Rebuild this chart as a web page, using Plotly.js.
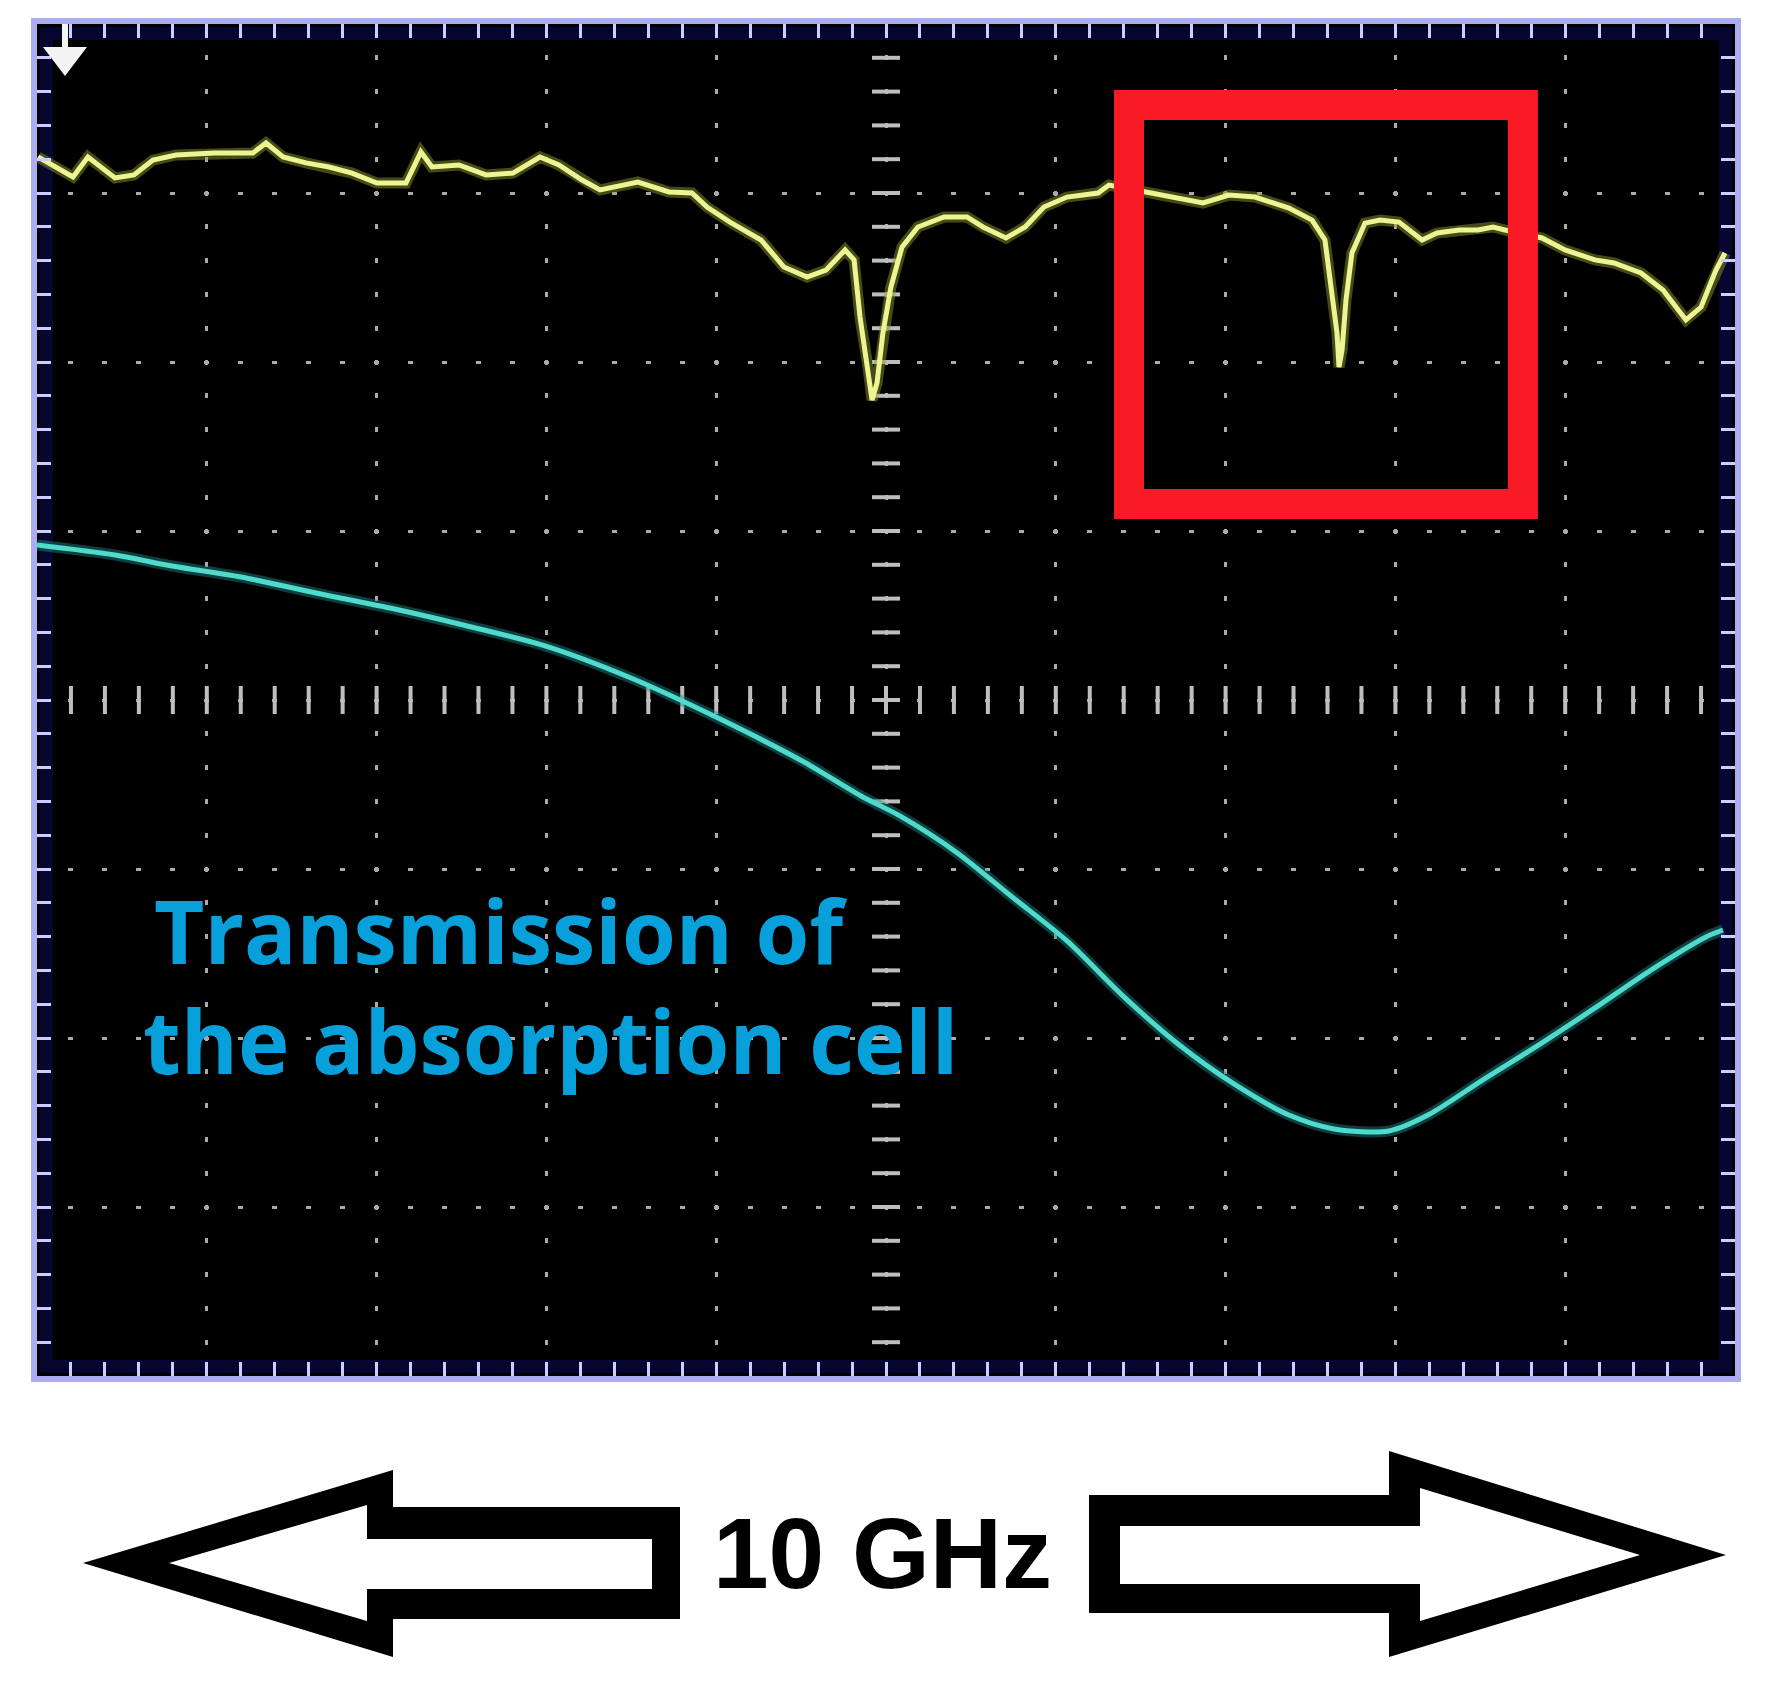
<!DOCTYPE html>
<html>
<head>
<meta charset="utf-8">
<script src="https://cdn.plot.ly/plotly-3.0.1.min.js"></script>
<style>
html,body{margin:0;padding:0;background:#ffffff;}
#chart{width:1772px;height:1685px;}
</style>
</head>
<body>
<div id="chart"></div>
<script>
// ---- Data (x in GHz across the 10 GHz sweep, y in screen divisions) ----
const yellowX = [0.006,0.212,0.300,0.459,0.571,0.683,0.819,1.042,1.272,1.349,1.449,1.584,1.720,1.855,2.002,2.173,2.261,2.326,2.485,2.644,2.803,2.962,3.074,3.210,3.316,3.539,3.722,3.857,3.946,4.081,4.264,4.399,4.535,4.647,4.759,4.812,4.847,4.894,4.918,4.947,4.982,5.029,5.094,5.188,5.342,5.477,5.571,5.707,5.819,5.930,6.066,6.249,6.313,6.561,6.731,6.867,7.020,7.173,7.373,7.509,7.585,7.621,7.656,7.668,7.686,7.709,7.744,7.821,7.909,8.021,8.157,8.245,8.375,8.486,8.575,8.645,8.863,8.999,9.175,9.287,9.446,9.576,9.711,9.800,9.888,9.941];
const yellowY = [7.213,7.095,7.213,7.089,7.107,7.195,7.225,7.237,7.237,7.296,7.213,7.178,7.154,7.118,7.059,7.059,7.243,7.154,7.166,7.107,7.118,7.213,7.166,7.077,7.018,7.065,7.006,7.000,6.917,6.828,6.722,6.562,6.503,6.544,6.663,6.604,6.266,5.970,5.775,5.876,6.172,6.444,6.680,6.799,6.858,6.858,6.799,6.734,6.799,6.917,6.976,7.000,7.047,7.000,6.970,6.941,6.988,6.976,6.911,6.840,6.722,6.467,6.172,5.970,6.071,6.367,6.645,6.822,6.840,6.828,6.722,6.763,6.781,6.781,6.799,6.781,6.734,6.663,6.604,6.586,6.527,6.426,6.249,6.325,6.544,6.645];

const cyanX = [0.000,0.459,0.795,1.201,1.643,2.079,2.485,2.992,3.498,4.011,4.517,4.853,5.082,5.412,5.736,6.066,6.390,6.720,7.049,7.373,7.638,7.962,8.192,8.522,8.852,9.176,9.505,9.829,9.929];
const cyanY = [4.917,4.858,4.793,4.728,4.633,4.544,4.450,4.320,4.130,3.893,3.633,3.432,3.314,3.101,2.840,2.574,2.254,1.964,1.728,1.544,1.462,1.450,1.544,1.757,1.964,2.178,2.402,2.598,2.639];

// highlighted region (red box) in data units
const boxX = [6.431, 8.751];
const boxY = [5.160, 7.521];

const labelLine1 = 'Transmission of';
const labelLine2 = 'the absorption cell';
const spanLabel = '10 GHz';

// ---- Layout geometry ----
const FIG_W = 1772, FIG_H = 1685;
const L = 37, R = 37, T = 24, Bm = 309;
const W = FIG_W - L - R;       // 1698
const H = FIG_H - T - Bm;      // 1352
const BOT = T + H;             // 1376

function px(x){ return (x - L) / W; }
function py(y){ return (BOT - y) / H; }
function P(x, y){ return px(x).toFixed(5) + ',' + py(y).toFixed(5); }
function poly(pts){ return 'M' + pts.map(p => P(p[0], p[1])).join(' L') + ' Z'; }

// graticule center-line tick positions (every 0.2 division)
const centerTicksX = [];
for (let i = 1; i < 50; i++) centerTicksX.push(+(i * 0.2).toFixed(1));
const centerTicksY = [];
for (let i = 1; i < 40; i++) centerTicksY.push(+(i * 0.2).toFixed(1));

const tickCol = 'rgb(190,190,190)';

const traces = [
  { x: centerTicksX, y: centerTicksX.map(() => 4), type: 'scatter', mode: 'markers',
    marker: { symbol: 'line-ns', size: 20, line: { width: 4, color: tickCol } }, hoverinfo: 'skip' },
  { x: centerTicksY.map(() => 5), y: centerTicksY, type: 'scatter', mode: 'markers',
    marker: { symbol: 'line-ew', size: 20, line: { width: 4, color: tickCol } }, hoverinfo: 'skip' },
  // soft phosphor glow under each trace
  { x: cyanX, y: cyanY, type: 'scatter', mode: 'lines',
    line: { color: 'rgba(30,140,140,0.45)', width: 11, shape: 'spline', smoothing: 0.8 } },
  { x: cyanX, y: cyanY, type: 'scatter', mode: 'lines',
    line: { color: 'rgb(80,218,204)', width: 5, shape: 'spline', smoothing: 0.8 } },
  { x: yellowX, y: yellowY, type: 'scatter', mode: 'lines',
    line: { color: 'rgba(140,150,40,0.5)', width: 11 } },
  { x: yellowX, y: yellowY, type: 'scatter', mode: 'lines',
    line: { color: 'rgb(236,244,150)', width: 5 } }
];

const frameCol = 'rgb(172,172,242)';
const edgeTickCol = 'rgb(205,205,255)';

const leftArrowOuter = [[83,1563],[393,1470],[393,1507],[680,1507],[680,1619],[393,1619],[393,1657]];
const leftArrowInner = [[169,1563],[367,1505],[367,1539],[652,1539],[652,1589],[367,1589],[367,1621]];
const rightArrowOuter = [[1089,1495],[1389,1495],[1389,1451],[1726,1555],[1389,1657],[1389,1613],[1089,1613]];
const rightArrowInner = [[1120,1526],[1420,1526],[1420,1488],[1640,1555],[1420,1621],[1420,1584],[1120,1584]];
const markerShape = [[62,24],[68,24],[68,47],[87,47],[65,76],[43,47],[62,47]];

const layout = {
  width: FIG_W, height: FIG_H,
  margin: { l: L, r: R, t: T, b: Bm, pad: 0 },
  paper_bgcolor: '#ffffff',
  plot_bgcolor: '#000000',
  showlegend: false,
  hovermode: false,
  xaxis: {
    range: [0, 10], tick0: 0, dtick: 1,
    showticklabels: false, zeroline: false,
    showgrid: true, gridcolor: 'rgb(170,170,170)', gridwidth: 3,
    griddash: '2.5px,28.8px,2.5px,0px',
    showline: true, linecolor: frameCol, linewidth: 6, mirror: 'ticks',
    ticks: 'inside', ticklen: 14, tickwidth: 3, tickcolor: edgeTickCol,
    minor: { dtick: 0.2, tick0: 0, ticks: 'inside', ticklen: 14, tickwidth: 3, tickcolor: edgeTickCol, showgrid: false }
  },
  yaxis: {
    range: [0, 8], tick0: 0, dtick: 1,
    showticklabels: false, zeroline: false,
    showgrid: true, gridcolor: 'rgb(170,170,170)', gridwidth: 3,
    griddash: '2.5px,28.96px,2.5px,0px',
    showline: true, linecolor: frameCol, linewidth: 6, mirror: 'ticks',
    ticks: 'inside', ticklen: 14, tickwidth: 3, tickcolor: edgeTickCol,
    minor: { dtick: 0.2, tick0: 0, ticks: 'inside', ticklen: 14, tickwidth: 3, tickcolor: edgeTickCol, showgrid: false }
  },
  shapes: [
    { type: 'rect', xref: 'paper', yref: 'paper', layer: 'below',
      x0: 9.5 / W, x1: 1 - 9.5 / W, y0: 9.5 / H, y1: 1 - 9.5 / H,
      line: { color: 'rgb(6,6,48)', width: 13 } },
    { type: 'rect', xref: 'x', yref: 'y', layer: 'above',
      x0: boxX[0], x1: boxX[1], y0: boxY[0], y1: boxY[1],
      line: { color: 'rgb(250,26,38)', width: 30 } },
    { type: 'path', xref: 'paper', yref: 'paper', path: poly(markerShape),
      fillcolor: '#f4f4f4', line: { width: 0 } },
    { type: 'path', xref: 'paper', yref: 'paper', path: poly(leftArrowOuter),
      fillcolor: '#000000', line: { width: 0 } },
    { type: 'path', xref: 'paper', yref: 'paper', path: poly(leftArrowInner),
      fillcolor: '#ffffff', line: { width: 0 } },
    { type: 'path', xref: 'paper', yref: 'paper', path: poly(rightArrowOuter),
      fillcolor: '#000000', line: { width: 0 } },
    { type: 'path', xref: 'paper', yref: 'paper', path: poly(rightArrowInner),
      fillcolor: '#ffffff', line: { width: 0 } }
  ],
  annotations: [
    { xref: 'paper', yref: 'paper', x: px(152), y: py(930), xanchor: 'left', yanchor: 'middle',
      text: labelLine1, showarrow: false,
      font: { family: 'Open Sans', size: 87, color: 'rgb(8,160,218)', weight: 700 } },
    { xref: 'paper', yref: 'paper', x: px(141), y: py(1040), xanchor: 'left', yanchor: 'middle',
      text: labelLine2, showarrow: false,
      font: { family: 'Open Sans', size: 87, color: 'rgb(8,160,218)', weight: 700 } },
    { xref: 'paper', yref: 'paper', x: px(882), y: py(1553), xanchor: 'center', yanchor: 'middle',
      text: spanLabel, showarrow: false,
      font: { family: 'Liberation Sans', size: 100, color: '#000000', weight: 700 } }
  ]
};

Plotly.newPlot('chart', traces, layout, { staticPlot: true, displayModeBar: false });
</script>
</body>
</html>
